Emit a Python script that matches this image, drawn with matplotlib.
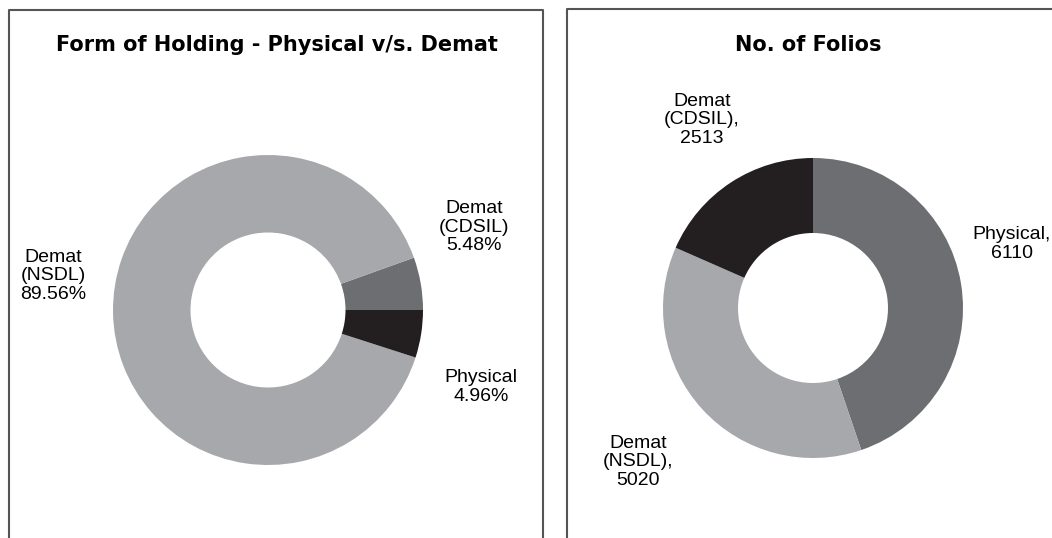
import matplotlib
matplotlib.use("Agg")
import matplotlib.pyplot as plt
from matplotlib.lines import Line2D

W, H = 1052, 538

# form of holding (%)
hold_labels = ["Demat\n(CDSIL)\n5.48%", "Demat\n(NSDL)\n89.56%", "Physical\n4.96%"]
hold_values = [5.48, 89.56, 4.96]
hold_colors = ["#6d6e71", "#a7a8ab", "#231f20"]

# folios
folio_labels = ["Physical,\n6110", "Demat\n(NSDL),\n5020", "Demat\n(CDSIL),\n2513"]
folio_values = [6110, 5020, 2513]
folio_colors = ["#6d6e71", "#a7a8ab", "#231f20"]

plt.rcParams['font.family'] = ['Liberation Sans', 'DejaVu Sans']

fig = plt.figure(figsize=(W / 100, H / 100), dpi=100)


def px(x, y):
    return x / W, 1 - y / H


def box(x0, x1, y0, right=True):
    xs = [x0, x0, x1] + ([x1] if right else [])
    ys = [H, y0, y0] + ([H] if right else [])
    fx = [x / W for x in xs]
    fy = [1 - y / H for y in ys]
    fig.add_artist(Line2D(fx, fy, color="#555555", lw=1.5, transform=fig.transFigure))


box(9, 543, 10)
box(567, 1060, 9, right=False)

# left donut
ax1 = fig.add_axes([113 / W, (538 - 465) / H, 310 / W, 310 / H])
ax1.pie(hold_values, colors=hold_colors, startangle=0, counterclock=True,
        wedgeprops=dict(width=0.5))
ax1.set_xlim(-1, 1); ax1.set_ylim(-1, 1)
ax1.axis("off")

# right donut
ax2 = fig.add_axes([663 / W, (538 - 458) / H, 300 / W, 300 / H])
ax2.pie(folio_values, colors=folio_colors, startangle=90, counterclock=False,
        wedgeprops=dict(width=0.5))
ax2.set_xlim(-1, 1); ax2.set_ylim(-1, 1)
ax2.axis("off")

fig.text(*px(277, 45), "Form of Holding - Physical v/s. Demat", ha="center", va="center",
         fontsize=15, fontweight="bold", family=["DejaVu Sans"])
fig.text(*px(808, 45), "No. of Folios", ha="center", va="center",
         fontsize=15, fontweight="bold", family=["DejaVu Sans"])

tkw = dict(ha="center", va="center", fontsize=14, linespacing=1.15)
fig.text(*px(474, 227), hold_labels[0], **tkw)
fig.text(*px(53, 276), hold_labels[1], **tkw)
fig.text(*px(481, 387), hold_labels[2], **tkw)

fig.text(*px(1012, 244), folio_labels[0], **tkw)
fig.text(*px(638, 462), folio_labels[1], **tkw)
fig.text(*px(702, 120), folio_labels[2], **tkw)

fig.savefig("out.png", dpi=100)
